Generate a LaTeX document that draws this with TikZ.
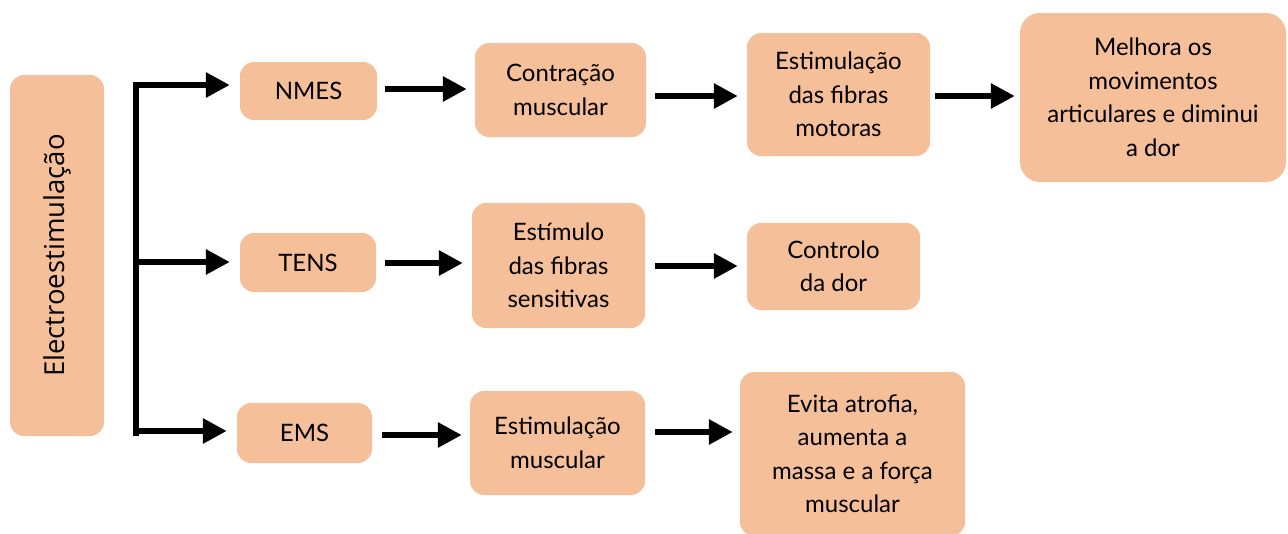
\documentclass[tikz,border=0pt]{standalone}
\usepackage{fontspec}
\setmainfont{Lato}
\newfontfamily\leftfont{Open Sans}
\usetikzlibrary{arrows.meta,calc}
\definecolor{peach}{HTML}{F5BF99}
\begin{document}
\begin{tikzpicture}[x=1pt,y=-1pt,
 box/.style={fill=peach,draw=none,rounded corners=14pt,inner sep=0pt,align=center,font=\fontsize{24}{33.5}\selectfont},
 arr/.style={line width=6pt,-{Triangle[length=24pt,width=24pt]},shorten <=9pt,shorten >=9pt},
 trunkline/.style={line width=6pt}]
\useasboundingbox (0,0) rectangle (1288,533);
% left box
\node[box,minimum width=361pt,minimum height=94pt,rotate=90,font=\leftfont\fontsize{27.5}{30}\selectfont] (elec) at (57,255.5) {Electroestimulação};
% level 1
\node[box,minimum width=137pt,minimum height=58pt] (nmes) at (308.5,91) {NMES};
\node[box,minimum width=136pt,minimum height=59pt] (tens) at (308,262.5) {TENS};
\node[box,minimum width=135pt,minimum height=60pt] (ems) at (304.5,433) {EMS};
% level 2
\node[box,minimum width=171pt,minimum height=94pt] (contr) at (560.5,90) {Contração\\muscular};
\node[box,minimum width=173pt,minimum height=125pt] (estim) at (558.5,265.5) {Estímulo\\das fibras\\sensitivas};
\node[box,minimum width=175pt,minimum height=104pt] (estmus) at (557.5,443) {Estimulação\\muscular};
% level 3
\node[box,minimum width=183pt,minimum height=123pt] (estfm) at (838.5,94.5) {Estimulação\\das fibras\\motoras};
\node[box,minimum width=173pt,minimum height=87pt] (ctrl) at (833.5,266.5) {Controlo\\da dor};
\node[box,minimum width=225pt,minimum height=164pt] (evita) at (852.5,454) {Evita atrofia,\\aumenta a\\massa e a força\\muscular};
% level 4
\node[box,minimum width=266pt,minimum height=169pt,rounded corners=20pt] (melh) at (1153,97.5) {Melhora os\\movimentos\\articulares e diminui\\a dor};
% trunk
\coordinate (j1) at (136,85);
\coordinate (j2) at (136,262);
\coordinate (j3) at (136,431);
\coordinate (ttop) at (136,82);
\coordinate (tbot) at (136,436);
\draw[trunkline] (ttop) -- (tbot);
\draw[arr,shorten <=0pt,shorten >=10pt] (j1) -- (j1 -| nmes.west);
\draw[arr,shorten <=0pt,shorten >=10pt] (j2) -- (j2 -| tens.west);
\draw[arr,shorten <=0pt,shorten >=10pt] (j3) -- (j3 -| ems.west);
% arrows
\draw[arr,shorten <=8pt,shorten >=8pt] (nmes.east |- 0,89) -- (contr.west |- 0,89);
\draw[arr] (contr.east |- 0,96) -- (estfm.west |- 0,96);
\draw[arr,shorten <=5pt,shorten >=5pt] (estfm.east |- 0,96) -- (melh.west |- 0,96);
\draw[arr] (tens.east |- 0,263) -- (estim.west |- 0,263);
\draw[arr,shorten <=10pt] (estim.east |- 0,266) -- (ctrl.west |- 0,266);
\draw[arr,shorten <=10pt,shorten >=8pt] (ems.east |- 0,435) -- (estmus.west |- 0,435);
\draw[arr,shorten <=10pt,shorten >=7pt] (estmus.east |- 0,432) -- (evita.west |- 0,432);
\end{tikzpicture}
\end{document}
